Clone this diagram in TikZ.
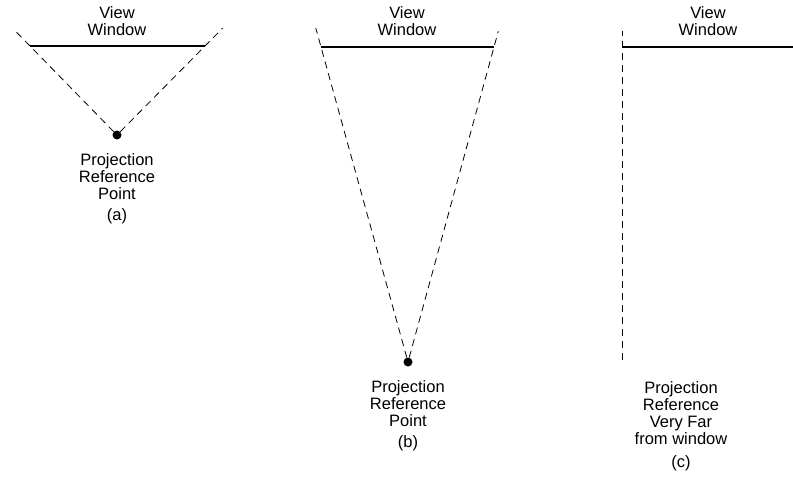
\documentclass[tikz,border=0pt]{standalone}
\usepackage{fontspec}
\setmainfont{Liberation Sans}
\usepackage{tikz}
\usetikzlibrary{positioning,calc}

\begin{document}
\begin{tikzpicture}[
    x=1pt, y=-1pt,
    label/.style={align=center, font=\fontsize{16.5}{17}\selectfont, inner sep=0pt},
    window/.style={line width=1.6pt},
    ray/.style={line width=0.8pt, dash pattern=on 7pt off 5pt},
    prp/.style={circle, fill=black, inner sep=0pt, minimum size=9pt}
]
\useasboundingbox (0,0) rectangle (793,485);

% (a) nahe
\coordinate (wAl) at (30,46);
\coordinate (wAr) at (205,46);
\node[prp] (pA) at (117,135) {};
\node[label] (tA) at (117,21) {View\\Window};
\node[label, below=14pt of pA] (lA) {Projection\\Reference\\Point};
\node[label, below=8pt of lA] (cA) {(a)};

% (b) weiter weg
\coordinate (wBl) at (321,47);
\coordinate (wBr) at (494,47);
\node[prp] (pB) at (408,362) {};
\node[label] (tB) at (407,21) {View\\Window};
\node[label, below=14pt of pB] (lB) {Projection\\Reference\\Point};
\node[label, below=8pt of lB] (cB) {(b)};

% (c) sehr weit weg
\coordinate (wCl) at (622,47);
\coordinate (wCr) at (793,47);
\coordinate (rC) at (622,360);
\node[label] (tC) at (708,21) {View\\Window};
\node[label] (lC) at (681,413) {Projection\\Reference\\Very Far\\from window};
\node[label, below=11pt of lC] (cC) {(c)};

% Fenster
\draw[window] (wAl) -- (wAr);
\draw[window] (wBl) -- (wBr);
\draw[window] (wCl) -- (wCr);

% Projektionsstrahlen
\draw[ray] (pA) -- ($(pA)!1.19!(wAl)$);
\draw[ray] (pA) -- ($(pA)!1.2!(wAr)$);
\draw[ray] (pB) -- ($(pB)!1.06!(wBl)$);
\draw[ray] (pB) -- ($(pB)!1.05!(wBr)$);
\draw[ray] (rC) -- ($(rC)!1.05!(wCl)$);

\end{tikzpicture}
\end{document}
